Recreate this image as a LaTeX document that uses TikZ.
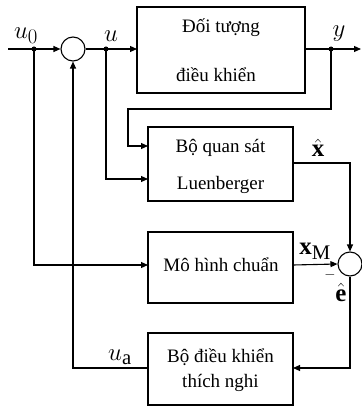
\documentclass[tikz,border=0pt]{standalone}
\usepackage{fontspec}
\setmainfont{Liberation Serif}
\usepackage{amsmath}
\usetikzlibrary{arrows.meta}
\begin{document}
\begin{tikzpicture}[x=1pt,y=-1pt,
  line width=1.1pt,
  >={Triangle[length=7pt,width=6pt]},
  txt/.style={font=\fontsize{19}{22}\selectfont,inner sep=0pt,align=center},
  lbl/.style={font=\fontsize{24.88}{26}\selectfont,inner sep=0pt},
  jdot/.style={circle,fill,inner sep=0pt,minimum size=5pt},
  sumc/.style={circle,draw,fill=white,inner sep=0pt,minimum size=24pt}]
\useasboundingbox (0,0) rectangle (361,406);
% blocks
\draw (137,7) rectangle (305,93);
\node[txt] (p1) at (221,28) {Đối tượng};
\node[txt] (p2) at (216,75) {điều khiển};
\coordinate (plantW) at (137,49);
\coordinate (plantE) at (305,49);
\draw (148,127) rectangle (293,201);
\node[txt] (o1) at (220.5,148) {Bộ quan sát};
\node[txt] (o2) at (220.5,185) {Luenberger};
\draw (148,232) rectangle (293,303);
\node[txt] (m1) at (221,265) {Mô hình chuẩn};
\draw (148,333) rectangle (293,405);
\node[txt] (c1) at (220.5,357) {Bộ điều khiển};
\node[txt] (c2) at (220.5,383) {thích nghi};
% summing junctions
\node[sumc] (s1) at (73,49) {};
\node[sumc] (s2) at (350,264) {};
% junction dots
\node[jdot] (d0) at (34,49) {};
\node[jdot] (du) at (106,49) {};
\node[jdot] (dy) at (331,49) {};
\coordinate (in) at (8,49);
\coordinate (out) at (361,49);
% main path
\draw[->] (in) -- (s1.west);
\draw (s1.east) -- (du.center);
\draw[->] (du.center) -- (plantW);
\draw[->] (plantE) -- (out);
% y feedback to observer
\draw[->] (dy.center) -- (331,109) -- (128,109) -- (128,146) -- (148,146);
% u to observer
\draw[->] (du.center) -- (106,179) -- (148,179);
% u0 to model
\draw[->] (d0.center) -- (34,265) -- (148,265);
% observer output
\draw[->] (293,163) -- (350,163) -- (s2.north);
% model output
\draw[->] (293,265) -- (s2.west);
% error to controller
\draw[->] (s2.south) -- (350,368) -- (293,368);
% controller to sum
\draw[->] (148,368) -- (73,368) -- (s1.south);
% labels
\node[lbl] (lu0) at (26,36) {$u_0$};
\node[lbl] (lu) at (111,36) {$u$};
\node[lbl] (ly) at (339,34) {$y$};
\node[lbl] (lxh) at (318,148) {$\hat{\mathbf{x}}$};
\node[lbl] (lxm) at (315,251) {$\mathbf{x}_{\mathrm{M}}$};
\node[lbl] (lm) at (330,275) {\fontsize{14}{14}\selectfont $-$};
\node[lbl] (le) at (341,292) {$\hat{\mathbf{e}}$};
\node[lbl] (lua) at (120,357) {$u_{\mathrm{a}}$};
\end{tikzpicture}
\end{document}
